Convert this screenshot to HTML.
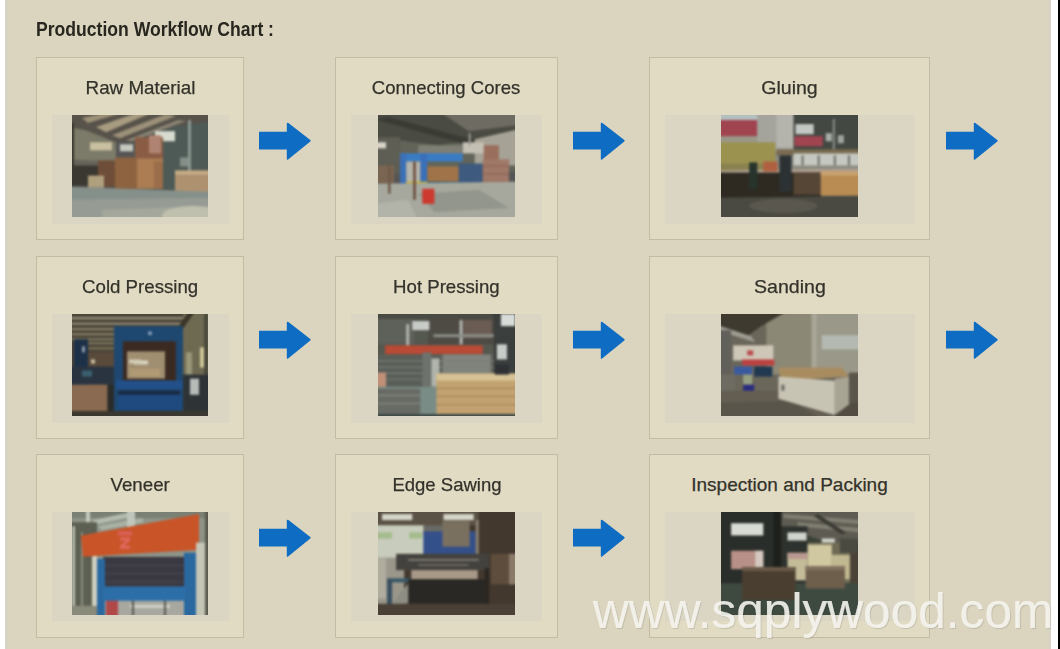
<!DOCTYPE html>
<html><head><meta charset="utf-8"><style>
html,body{margin:0;padding:0}
body{width:1060px;height:649px;position:relative;overflow:hidden;background:#fff;font-family:"Liberation Sans",sans-serif}
#bg{position:absolute;left:5px;top:0;width:1046px;height:649px;background:#dbd5bf}
#rb{position:absolute;left:1058px;top:0;width:2px;height:649px;background:#000}
#lb{position:absolute;left:5px;top:0;width:3px;height:649px;background:#d6d5c3}
#rb2{position:absolute;left:1048px;top:0;width:3px;height:649px;background:#d9d3c3}
.card{position:absolute;border:1px solid #c3bca3;background:#e1dbc4}
.ttl span{display:inline-block;transform-origin:50% 50%}
.ttl{position:absolute;text-align:center;font-size:19px;color:#33322a;white-space:nowrap;line-height:22px;-webkit-text-stroke:0.25px #33322a}
.bd{position:absolute;background:#dbd6c4}
.ph{position:absolute;display:block}
.ar{position:absolute;display:block}
#title{position:absolute;left:36px;top:17.5px;font-weight:bold;font-size:20px;color:#28271f;white-space:nowrap;transform-origin:0 0;transform:scaleX(0.879);line-height:22px}
#wm{position:absolute;left:593px;top:581px;font-size:49.6px;color:rgba(246,245,239,0.9);white-space:nowrap;line-height:60px;text-shadow:1px 1px 1px rgba(0,0,0,0.12);-webkit-text-stroke:0.2px rgba(246,245,239,0.9)}
</style></head><body>
<div id="bg"></div><div id="lb"></div><div id="rb2"></div><div id="rb"></div>
<div id="title">Production Workflow Chart :</div>
<div class="card" style="left:36px;top:57px;width:206px;height:181px"></div>
<div class="ttl" style="left:36px;top:77px;width:208px"><span style="transform:scaleX(0.9900)">Raw Material</span></div>
<div class="bd" style="left:52px;top:115px;width:177px;height:109px"></div>
<svg class="ph" style="left:72px;top:115px" width="136" height="102" viewBox="0 0 136 101" preserveAspectRatio="none"><defs><filter id="fraw" x="-10%" y="-10%" width="120%" height="120%" color-interpolation-filters="sRGB"><feGaussianBlur stdDeviation="1.3"/></filter><clipPath id="craw"><rect width="136" height="101"/></clipPath></defs><g clip-path="url(#craw)"><g filter="url(#fraw)"><rect x="-4" y="-4" width="144" height="109" fill="#555"/>
<polygon points="-4,-4 140,-4 140,6 100,12 62,26 44,27 14,15 -4,12" fill="#57524a"/>
<polygon points="10,3 44,-4 56,-4 16,8" fill="#9e9278"/>
<polygon points="24,12 70,-4 84,-4 34,17" fill="#a89c80"/>
<polygon points="40,20 94,-1 104,1 48,23" fill="#9c9078"/>
<polygon points="54,25 106,5 114,6 60,26" fill="#8a8474"/>
<polygon points="-4,12 14,15 44,27 44,56 -4,58" fill="#7c7a68"/>
<polygon points="-4,44 44,46 44,58 -4,58" fill="#66645a"/>
<rect x="-4" y="8" width="6" height="60" fill="#3a3830"/>
<rect x="18" y="27" width="22" height="8" fill="#c8c0a0"/>
<rect x="48" y="29" width="13" height="7" fill="#c4c8be"/>
<polygon points="62,26 100,12 140,6 140,74 62,74" fill="#4e5a55"/>
<rect x="83" y="16" width="20" height="10" fill="#d8dcd0"/>
<rect x="108" y="42" width="9" height="9" fill="#868e88"/>
<rect x="116" y="5" width="3" height="52" fill="#8a9892"/>
<rect x="-4" y="50" width="30" height="20" fill="#3a3830"/>
<rect x="26" y="45" width="17" height="26" fill="#6e4e38"/>
<rect x="43" y="42" width="22" height="31" fill="#8e6440"/>
<rect x="65" y="42" width="26" height="31" fill="#ac7c52"/>
<rect x="82" y="46" width="9" height="27" fill="#9a6e4a"/>
<rect x="63" y="22" width="28" height="21" fill="#8a5c44"/>
<rect x="77" y="20" width="12" height="18" fill="#b08472"/>
<rect x="16" y="60" width="16" height="12" fill="#b0a07e"/>
<rect x="103" y="55" width="35" height="22" fill="#ae9270"/>
<rect x="103" y="55" width="35" height="4" fill="#c4ac86"/>
<polygon points="-4,71 140,76 140,105 -4,105" fill="#86908a"/>
<polygon points="-4,84 140,82 140,105 -4,105" fill="#969c94"/>
<polygon points="30,94 140,90 140,105 30,105" fill="#a4a89c"/>
<ellipse cx="120" cy="100" rx="30" ry="10" fill="#c0c0ae"/>
</g></g></svg>
<svg class="ar" style="left:258px;top:122px" width="54" height="39" viewBox="0 0 54 39"><path d="M1 9.8 H28.8 V1.8 Q28.8 0 30.4 1.1 L52.3 18 Q53.2 18.8 52.3 19.6 L30.4 37.3 Q28.8 38.6 28.8 36.8 V27.6 H1 Z" fill="#0f6cc3"/></svg>
<div class="card" style="left:335px;top:57px;width:221px;height:181px"></div>
<div class="ttl" style="left:335px;top:77px;width:223px"><span style="transform:scaleX(0.9760)">Connecting Cores</span></div>
<div class="bd" style="left:351px;top:115px;width:191px;height:109px"></div>
<svg class="ph" style="left:378px;top:115px" width="137" height="102" viewBox="0 0 136 101" preserveAspectRatio="none"><defs><filter id="fcores" x="-10%" y="-10%" width="120%" height="120%" color-interpolation-filters="sRGB"><feGaussianBlur stdDeviation="1.3"/></filter><clipPath id="ccores"><rect width="136" height="101"/></clipPath></defs><g clip-path="url(#ccores)"><g filter="url(#fcores)"><rect x="-4" y="-4" width="144" height="109" fill="#555"/>
<rect x="-4" y="-4" width="144" height="60" fill="#62645a"/>
<polygon points="-4,-4 140,-4 140,14 100,24 60,30 -4,22" fill="#4a4b42"/>
<polygon points="60,-4 140,-4 140,10 90,16" fill="#6e6c62"/>
<polygon points="-4,4 10,2 100,26 90,30" fill="#3a3b34"/>
<polygon points="96,24 140,14 140,50 96,50" fill="#a6a296"/>
<rect x="-4" y="22" width="26" height="36" fill="#5e5e54"/>
<rect x="-4" y="27" width="12" height="6" fill="#d8d4c8"/>
<rect x="84" y="27" width="21" height="11" fill="#c4c0b4"/>
<rect x="90" y="18" width="2" height="12" fill="#9a9a92"/>
<rect x="40" y="30" width="44" height="9" fill="#7e7e74"/>
<rect x="105" y="30" width="15" height="16" fill="#9a6e5c"/>
<rect x="-4" y="50" width="20" height="18" fill="#7a6452"/>
<rect x="22" y="38" width="62" height="8" fill="#3a7cc4"/>
<rect x="22" y="38" width="6" height="40" fill="#3a70b8"/>
<rect x="42" y="38" width="7" height="40" fill="#3a70b8"/>
<rect x="28" y="46" width="14" height="22" fill="#b4b4ac"/>
<rect x="28" y="66" width="22" height="6" fill="#c8b030"/>
<rect x="49" y="51" width="32" height="15" fill="#a07448"/>
<rect x="49" y="66" width="34" height="4" fill="#3a6a80"/>
<rect x="80" y="48" width="24" height="24" fill="#3e5a7e"/>
<rect x="104" y="44" width="26" height="29" fill="#a07868"/>
<rect x="104" y="50" width="26" height="1" fill="#8a6050"/>
<rect x="104" y="58" width="26" height="1" fill="#8a6050"/>
<rect x="104" y="66" width="26" height="1" fill="#8a6050"/>
<polygon points="-4,68 140,66 140,105 -4,105" fill="#a6a89e"/>
<polygon points="40,78 100,74 130,92 56,96" fill="#92968c"/>
<polygon points="-4,88 30,84 40,105 -4,105" fill="#b2b4aa"/>
<rect x="44" y="73" width="12" height="15" fill="#cc3a30"/>
<rect x="35" y="46" width="2.5" height="38" fill="#6a4a38"/>
<rect x="10" y="48" width="2.5" height="30" fill="#6e5a4a"/>
</g></g></svg>
<svg class="ar" style="left:572px;top:122px" width="54" height="39" viewBox="0 0 54 39"><path d="M1 9.8 H28.8 V1.8 Q28.8 0 30.4 1.1 L52.3 18 Q53.2 18.8 52.3 19.6 L30.4 37.3 Q28.8 38.6 28.8 36.8 V27.6 H1 Z" fill="#0f6cc3"/></svg>
<div class="card" style="left:649px;top:57px;width:279px;height:181px"></div>
<div class="ttl" style="left:649px;top:77px;width:281px"><span style="transform:scaleX(1.0300)">Gluing</span></div>
<div class="bd" style="left:665px;top:115px;width:250px;height:109px"></div>
<svg class="ph" style="left:721px;top:115px" width="137" height="102" viewBox="0 0 136 101" preserveAspectRatio="none"><defs><filter id="fglue" x="-10%" y="-10%" width="120%" height="120%" color-interpolation-filters="sRGB"><feGaussianBlur stdDeviation="1.3"/></filter><clipPath id="cglue"><rect width="136" height="101"/></clipPath></defs><g clip-path="url(#cglue)"><g filter="url(#fglue)"><rect x="-4" y="-4" width="144" height="109" fill="#555"/>
<rect x="-4" y="-4" width="144" height="60" fill="#8a8a80"/>
<rect x="-4" y="-4" width="60" height="9" fill="#b4c0c0"/>
<rect x="-4" y="5" width="40" height="18" fill="#a04450"/>
<rect x="-4" y="21" width="44" height="7" fill="#9a9888"/>
<rect x="36" y="-4" width="36" height="40" fill="#a4a49c"/>
<rect x="55" y="-4" width="17" height="36" fill="#b4b4ac"/>
<rect x="72" y="-4" width="68" height="42" fill="#444842"/>
<rect x="74" y="9" width="18" height="10" fill="#c4c8c4"/>
<rect x="73" y="21" width="28" height="10" fill="#a04450"/>
<rect x="104" y="18" width="6" height="8" fill="#a8aca8"/>
<rect x="116" y="20" width="6" height="8" fill="#a0a4a0"/>
<rect x="111" y="4" width="2" height="32" fill="#8a8e8a"/>
<rect x="-4" y="27" width="58" height="30" fill="#9c9250"/>
<rect x="-4" y="48" width="58" height="9" fill="#8a8250"/>
<rect x="55" y="34" width="85" height="6" fill="#786a50"/>
<rect x="72" y="38" width="68" height="12" fill="#c4c8c0"/>
<rect x="80" y="40" width="2" height="10" fill="#707068"/>
<rect x="96" y="40" width="2" height="10" fill="#707068"/>
<rect x="112" y="40" width="2" height="10" fill="#707068"/>
<rect x="126" y="40" width="2" height="10" fill="#707068"/>
<polygon points="-4,55 140,53 140,58 -4,61" fill="#b0a090"/>
<rect x="-4" y="57" width="104" height="26" fill="#2e2a22"/>
<rect x="42" y="46" width="14" height="10" fill="#b06040"/>
<rect x="72" y="57" width="28" height="22" fill="#564636"/>
<rect x="28" y="47" width="8" height="26" fill="#26342c"/>
<rect x="58" y="40" width="12" height="36" fill="#2c3234"/>
<rect x="99" y="56" width="41" height="24" fill="#b88c52"/>
<rect x="99" y="56" width="41" height="4" fill="#caa270"/>
<polygon points="-4,82 140,80 140,105 -4,105" fill="#4a4a42"/>
<ellipse cx="62" cy="90" rx="34" ry="7" fill="#5a584e"/>
</g></g></svg>
<svg class="ar" style="left:945px;top:122px" width="54" height="39" viewBox="0 0 54 39"><path d="M1 9.8 H28.8 V1.8 Q28.8 0 30.4 1.1 L52.3 18 Q53.2 18.8 52.3 19.6 L30.4 37.3 Q28.8 38.6 28.8 36.8 V27.6 H1 Z" fill="#0f6cc3"/></svg>
<div class="card" style="left:36px;top:256px;width:206px;height:181px"></div>
<div class="ttl" style="left:36px;top:276px;width:208px"><span style="transform:scaleX(0.9820)">Cold Pressing</span></div>
<div class="bd" style="left:52px;top:314px;width:177px;height:109px"></div>
<svg class="ph" style="left:72px;top:314px" width="136" height="102" viewBox="0 0 136 101" preserveAspectRatio="none"><defs><filter id="fcold" x="-10%" y="-10%" width="120%" height="120%" color-interpolation-filters="sRGB"><feGaussianBlur stdDeviation="1.3"/></filter><clipPath id="ccold"><rect width="136" height="101"/></clipPath></defs><g clip-path="url(#ccold)"><g filter="url(#fcold)"><rect x="-4" y="-4" width="144" height="109" fill="#555"/>
<rect x="-4" y="-4" width="144" height="109" fill="#4a4438"/>
<rect x="-4" y="3" width="144" height="2.2" fill="#948e78"/>
<rect x="-4" y="8.5" width="144" height="2.2" fill="#8e8872"/>
<rect x="-4" y="14" width="144" height="2" fill="#8a846c"/>
<rect x="-4" y="19" width="46" height="2" fill="#8a846c"/>
<rect x="-4" y="24" width="46" height="2" fill="#807a62"/>
<rect x="16" y="28" width="26" height="2" fill="#7e785e"/>
<rect x="16" y="33" width="26" height="2" fill="#7a745a"/>
<rect x="16" y="38" width="26" height="32" fill="#5a4a3c"/>
<rect x="19" y="45" width="4" height="4" fill="#c8c0a0"/>
<rect x="2" y="25" width="14" height="46" fill="#1c3048"/>
<rect x="10" y="32" width="3" height="6" fill="#8a9aa8"/>
<rect x="-4" y="52" width="46" height="18" fill="#2a3440"/>
<rect x="10" y="56" width="10" height="6" fill="#3a6070"/>
<rect x="111" y="-4" width="29" height="74" fill="#6e6a52"/>
<polygon points="105,14 118,-4 124,-4 110,16" fill="#3a3428"/>
<rect x="128" y="33" width="6" height="20" fill="#d0c898"/>
<rect x="114" y="38" width="6" height="22" fill="#9a9678"/>
<rect x="132" y="-4" width="4" height="109" fill="#4a4a3c"/>
<rect x="111" y="60" width="29" height="40" fill="#2e3436"/>
<rect x="118" y="64" width="9" height="16" fill="#b8bcb8"/>
<rect x="42" y="12" width="69" height="85" fill="#1f4870"/>
<rect x="51" y="27" width="53" height="39" fill="#3a2a22"/>
<rect x="55" y="37" width="38" height="27" fill="#a08e70"/>
<rect x="62" y="46" width="14" height="4" fill="#d8d4c0"/>
<rect x="58" y="54" width="30" height="8" fill="#b09a74"/>
<rect x="57" y="45" width="12" height="4" fill="#d0ccb4"/>
<rect x="44" y="66" width="67" height="8" fill="#22508a"/>
<rect x="46" y="76" width="62" height="4" fill="#182a44"/>
<rect x="46" y="80" width="64" height="15" fill="#1e4a80"/>
<circle cx="78" cy="19" r="2" fill="#8aa0b8"/>
<rect x="-4" y="70" width="39" height="35" fill="#8a6a50"/>
<rect x="36" y="70" width="6" height="30" fill="#2a2c2a"/>
<rect x="-4" y="96" width="144" height="9" fill="#3a3830"/>
</g></g></svg>
<svg class="ar" style="left:258px;top:321px" width="54" height="39" viewBox="0 0 54 39"><path d="M1 9.8 H28.8 V1.8 Q28.8 0 30.4 1.1 L52.3 18 Q53.2 18.8 52.3 19.6 L30.4 37.3 Q28.8 38.6 28.8 36.8 V27.6 H1 Z" fill="#0f6cc3"/></svg>
<div class="card" style="left:335px;top:256px;width:221px;height:181px"></div>
<div class="ttl" style="left:335px;top:276px;width:223px"><span style="transform:scaleX(0.9800)">Hot Pressing</span></div>
<div class="bd" style="left:351px;top:314px;width:191px;height:109px"></div>
<svg class="ph" style="left:378px;top:314px" width="137" height="102" viewBox="0 0 136 101" preserveAspectRatio="none"><defs><filter id="fhot" x="-10%" y="-10%" width="120%" height="120%" color-interpolation-filters="sRGB"><feGaussianBlur stdDeviation="1.3"/></filter><clipPath id="chot"><rect width="136" height="101"/></clipPath></defs><g clip-path="url(#chot)"><g filter="url(#fhot)"><rect x="-4" y="-4" width="144" height="109" fill="#555"/>
<rect x="-4" y="-4" width="144" height="109" fill="#55584f"/>
<rect x="-4" y="-4" width="144" height="9" fill="#4a4a44"/>
<rect x="-4" y="5" width="40" height="25" fill="#5e605a"/>
<rect x="50" y="5" width="68" height="25" fill="#4e4a44"/>
<rect x="85" y="6" width="28" height="18" fill="#6a5c52"/>
<rect x="34" y="7" width="17" height="9" fill="#c8ccc8"/>
<rect x="28" y="10" width="3" height="22" fill="#b0b4ac"/>
<rect x="81" y="6" width="3" height="24" fill="#b4b6b0"/>
<rect x="55" y="20" width="60" height="3" fill="#8a8e88"/>
<rect x="115" y="-4" width="25" height="64" fill="#3a3e3c"/>
<rect x="122" y="0" width="14" height="12" fill="#d8dcd8"/>
<rect x="118" y="30" width="10" height="15" fill="#c8ccc8"/>
<rect x="7" y="31" width="97" height="9" fill="#b84a36"/>
<rect x="-4" y="40" width="119" height="33" fill="#5a5e58"/>
<rect x="64" y="40" width="48" height="20" fill="#80847c"/>
<rect x="-4" y="46" width="119" height="1.2" fill="#7a7e76"/>
<rect x="-4" y="52" width="119" height="1.2" fill="#7a7e76"/>
<rect x="-4" y="58" width="119" height="1.2" fill="#7a7e76"/>
<rect x="-4" y="64" width="119" height="1.2" fill="#727670"/>
<rect x="44" y="38" width="9" height="36" fill="#6e726c"/>
<rect x="53" y="44" width="8" height="28" fill="#b0b4ac"/>
<rect x="-4" y="58" width="12" height="16" fill="#c09078"/>
<rect x="-4" y="72" width="144" height="33" fill="#7a8c86"/>
<rect x="-4" y="74" width="46" height="26" fill="#686a64"/>
<rect x="-4" y="80" width="46" height="1.3" fill="#868a82"/>
<rect x="-4" y="88" width="46" height="1.3" fill="#868a82"/>
<rect x="58" y="59" width="82" height="40" fill="#c2a270"/>
<rect x="58" y="59" width="82" height="7" fill="#d6c294"/>
<rect x="58" y="73" width="82" height="1.3" fill="#a88a60"/>
<rect x="58" y="81" width="82" height="1.3" fill="#a88a60"/>
<rect x="58" y="89" width="82" height="1.3" fill="#a88a60"/>
<rect x="-4" y="99" width="144" height="6" fill="#3e4a48"/>
<rect x="116" y="50" width="14" height="10" fill="#2e3034"/>
</g></g></svg>
<svg class="ar" style="left:572px;top:321px" width="54" height="39" viewBox="0 0 54 39"><path d="M1 9.8 H28.8 V1.8 Q28.8 0 30.4 1.1 L52.3 18 Q53.2 18.8 52.3 19.6 L30.4 37.3 Q28.8 38.6 28.8 36.8 V27.6 H1 Z" fill="#0f6cc3"/></svg>
<div class="card" style="left:649px;top:256px;width:279px;height:181px"></div>
<div class="ttl" style="left:649px;top:276px;width:281px"><span style="transform:scaleX(1.0300)">Sanding</span></div>
<div class="bd" style="left:665px;top:314px;width:250px;height:109px"></div>
<svg class="ph" style="left:721px;top:314px" width="137" height="102" viewBox="0 0 136 101" preserveAspectRatio="none"><defs><filter id="fsand" x="-10%" y="-10%" width="120%" height="120%" color-interpolation-filters="sRGB"><feGaussianBlur stdDeviation="1.3"/></filter><clipPath id="csand"><rect width="136" height="101"/></clipPath></defs><g clip-path="url(#csand)"><g filter="url(#fsand)"><rect x="-4" y="-4" width="144" height="109" fill="#555"/>
<rect x="-4" y="-4" width="144" height="109" fill="#6a665a"/>
<polygon points="45,-4 140,-4 140,60 45,60" fill="#8c8876"/>
<polygon points="90,-4 140,-4 140,60 90,60" fill="#9a9888"/>
<rect x="100" y="21" width="40" height="14" fill="#b4bab2"/>
<rect x="90" y="-4" width="5" height="60" fill="#a8a696"/>
<polygon points="-4,-4 68,-4 40,12 26,22 -4,12" fill="#3e3a30"/>
<polygon points="-4,11 30,22 34,28 -4,16" fill="#9e9c92"/>
<rect x="-4" y="16" width="14" height="46" fill="#62605a"/>
<rect x="12" y="31" width="40" height="15" fill="#cec6b6"/>
<rect x="26" y="36" width="6" height="5" fill="#b85050"/>
<rect x="21" y="45" width="32" height="6" fill="#bc4242"/>
<rect x="13" y="52" width="18" height="8" fill="#3a5aa0"/>
<rect x="33" y="52" width="18" height="10" fill="#203850"/>
<rect x="22" y="60" width="9" height="10" fill="#96a080"/>
<rect x="22" y="70" width="11" height="8" fill="#2a2c80"/>
<rect x="-4" y="60" width="18" height="16" fill="#6e6c62"/>
<polygon points="-4,76 56,76 112,101 -4,105" fill="#645e52"/>
<polygon points="-4,88 70,86 100,105 -4,105" fill="#5a554a"/>
<polygon points="57,53 120,53 127,62 60,66" fill="#a88c60"/>
<polygon points="57,62 113,66 113,100 57,84" fill="#c8c4b4"/>
<polygon points="113,64 127,62 127,96 113,100" fill="#a8a494"/>
<polygon points="113,100 140,80 140,105 113,105" fill="#524c42"/>
<rect x="127" y="58" width="13" height="30" fill="#5a564a"/>
<rect x="60" y="70" width="3" height="6" fill="#6a6a66"/>
</g></g></svg>
<svg class="ar" style="left:945px;top:321px" width="54" height="39" viewBox="0 0 54 39"><path d="M1 9.8 H28.8 V1.8 Q28.8 0 30.4 1.1 L52.3 18 Q53.2 18.8 52.3 19.6 L30.4 37.3 Q28.8 38.6 28.8 36.8 V27.6 H1 Z" fill="#0f6cc3"/></svg>
<div class="card" style="left:36px;top:454px;width:206px;height:182px"></div>
<div class="ttl" style="left:36px;top:474px;width:208px"><span style="transform:scaleX(0.9850)">Veneer</span></div>
<div class="bd" style="left:52px;top:512px;width:177px;height:109px"></div>
<svg class="ph" style="left:72px;top:512px" width="136" height="103" viewBox="0 0 136 101" preserveAspectRatio="none"><defs><filter id="fveneer" x="-10%" y="-10%" width="120%" height="120%" color-interpolation-filters="sRGB"><feGaussianBlur stdDeviation="1.3"/></filter><clipPath id="cveneer"><rect width="136" height="101"/></clipPath></defs><g clip-path="url(#cveneer)"><g filter="url(#fveneer)"><rect x="-4" y="-4" width="144" height="109" fill="#555"/>
<rect x="-4" y="-4" width="144" height="109" fill="#8e9488"/>
<rect x="-4" y="-4" width="144" height="10" fill="#7a8074"/>
<polygon points="20,8 60,0 64,4 24,12" fill="#b4bcb0"/>
<polygon points="26,14 70,6 72,10 30,18" fill="#aab2a6"/>
<rect x="55" y="-4" width="8" height="22" fill="#c0c6bc"/>
<rect x="14" y="-4" width="4" height="30" fill="#c4cac0"/>
<rect x="-4" y="10" width="29" height="95" fill="#5c6052"/>
<rect x="0" y="14" width="3" height="86" fill="#b8bcac"/>
<rect x="9" y="20" width="2" height="80" fill="#8a8e80"/>
<rect x="20" y="40" width="5" height="60" fill="#d0d0c0"/>
<rect x="-4" y="92" width="30" height="13" fill="#8a8a7a"/>
<polygon points="9,23 127,2 127,37 11,44" fill="#c85428"/>
<rect x="46" y="19" width="14" height="4" fill="#d86058"/>
<polygon points="48,25 58,25 58,28 52,33 58,33 58,36 48,36 48,33 54,28 48,28" fill="#e06860"/>
<rect x="31" y="44" width="82" height="31" fill="#3a3840"/>
<rect x="31" y="52" width="82" height="1" fill="#4e4c54"/>
<rect x="31" y="60" width="82" height="1" fill="#4e4c54"/>
<rect x="31" y="68" width="82" height="1" fill="#4e4c54"/>
<rect x="33" y="86" width="80" height="19" fill="#a8a8a0"/>
<rect x="58" y="91" width="40" height="3" fill="#d0d0c8"/>
<rect x="34" y="84" width="12" height="21" fill="#b04848"/>
<rect x="60" y="86" width="2" height="19" fill="#5a5a54"/>
<rect x="92" y="86" width="2" height="19" fill="#5a5a54"/>
<rect x="25" y="46" width="8" height="59" fill="#2a68a0"/>
<rect x="112" y="40" width="12" height="65" fill="#2a68a0"/>
<rect x="31" y="73" width="82" height="14" fill="#2c6ea8"/>
<rect x="124" y="30" width="10" height="75" fill="#c6c6b6"/>
<rect x="133" y="-4" width="7" height="109" fill="#5a5a4e"/>
</g></g></svg>
<svg class="ar" style="left:258px;top:519px" width="54" height="39" viewBox="0 0 54 39"><path d="M1 9.8 H28.8 V1.8 Q28.8 0 30.4 1.1 L52.3 18 Q53.2 18.8 52.3 19.6 L30.4 37.3 Q28.8 38.6 28.8 36.8 V27.6 H1 Z" fill="#0f6cc3"/></svg>
<div class="card" style="left:335px;top:454px;width:221px;height:182px"></div>
<div class="ttl" style="left:335px;top:474px;width:223px"><span style="transform:scaleX(0.9750)">Edge Sawing</span></div>
<div class="bd" style="left:351px;top:512px;width:191px;height:109px"></div>
<svg class="ph" style="left:378px;top:512px" width="137" height="103" viewBox="0 0 136 101" preserveAspectRatio="none"><defs><filter id="fedge" x="-10%" y="-10%" width="120%" height="120%" color-interpolation-filters="sRGB"><feGaussianBlur stdDeviation="1.3"/></filter><clipPath id="cedge"><rect width="136" height="101"/></clipPath></defs><g clip-path="url(#cedge)"><g filter="url(#fedge)"><rect x="-4" y="-4" width="144" height="109" fill="#555"/>
<rect x="-4" y="-4" width="144" height="109" fill="#42382e"/>
<rect x="-4" y="-4" width="104" height="17" fill="#5a5244"/>
<rect x="4" y="2" width="30" height="6" fill="#d4d4c8"/>
<rect x="65" y="2" width="30" height="6" fill="#d4d4c8"/>
<rect x="-4" y="13" width="50" height="32" fill="#c8ccbc"/>
<rect x="-4" y="20" width="18" height="6" fill="#a4bc8c"/>
<rect x="31" y="20" width="13" height="6" fill="#a4bc8c"/>
<rect x="45" y="13" width="20" height="8" fill="#6a6a64"/>
<rect x="45" y="19" width="52" height="23" fill="#34508a"/>
<rect x="64" y="9" width="27" height="25" fill="#7a7060"/>
<rect x="97" y="8" width="3" height="44" fill="#8a8070"/>
<rect x="112" y="41" width="28" height="30" fill="#5e4c3c"/>
<rect x="130" y="41" width="10" height="30" fill="#8a7a68"/>
<rect x="-4" y="45" width="30" height="46" fill="#9a968a"/>
<rect x="-4" y="45" width="12" height="40" fill="#b0ac9e"/>
<rect x="18" y="41" width="92" height="16" fill="#44423e"/>
<rect x="30" y="46" width="70" height="2" fill="#7a7670"/>
<rect x="40" y="51" width="50" height="2" fill="#6a6660"/>
<rect x="33" y="57" width="66" height="9" fill="#a89888"/>
<rect x="9" y="65" width="24" height="4" fill="#3a5a68"/>
<rect x="9" y="66" width="5" height="26" fill="#3a5060"/>
<rect x="30" y="66" width="80" height="24" fill="#2a2824"/>
<polygon points="14,90 30,70 30,90" fill="#8e8e84"/>
<rect x="106" y="55" width="4" height="38" fill="#2a2620"/>
<rect x="-4" y="90" width="144" height="15" fill="#4a4036"/>
</g></g></svg>
<svg class="ar" style="left:572px;top:519px" width="54" height="39" viewBox="0 0 54 39"><path d="M1 9.8 H28.8 V1.8 Q28.8 0 30.4 1.1 L52.3 18 Q53.2 18.8 52.3 19.6 L30.4 37.3 Q28.8 38.6 28.8 36.8 V27.6 H1 Z" fill="#0f6cc3"/></svg>
<div class="card" style="left:649px;top:454px;width:279px;height:182px"></div>
<div class="ttl" style="left:649px;top:474px;width:281px"><span style="transform:scaleX(1.0000)">Inspection and Packing</span></div>
<div class="bd" style="left:665px;top:512px;width:250px;height:109px"></div>
<svg class="ph" style="left:721px;top:512px" width="137" height="103" viewBox="0 0 136 101" preserveAspectRatio="none"><defs><filter id="finsp" x="-10%" y="-10%" width="120%" height="120%" color-interpolation-filters="sRGB"><feGaussianBlur stdDeviation="1.3"/></filter><clipPath id="cinsp"><rect width="136" height="101"/></clipPath></defs><g clip-path="url(#cinsp)"><g filter="url(#finsp)"><rect x="-4" y="-4" width="144" height="109" fill="#555"/>
<rect x="-4" y="-4" width="144" height="109" fill="#3a4036"/>
<rect x="-4" y="-4" width="64" height="74" fill="#2a2e2a"/>
<polygon points="56,-4 140,-4 140,30 112,32 60,14" fill="#5e5c52"/>
<polygon points="62,2 140,8 140,12 62,6" fill="#8a887a" opacity="0.8"/>
<polygon points="76,10 140,16 140,20 76,14" fill="#8a887a" opacity="0.8"/>
<polygon points="96,2 124,20 120,22 92,4" fill="#3a3a34"/>
<rect x="52" y="-4" width="8" height="74" fill="#1e201c"/>
<rect x="10" y="11" width="32" height="12" fill="#d8dcd4"/>
<rect x="10" y="38" width="32" height="18" fill="#b89088"/>
<rect x="34" y="38" width="8" height="18" fill="#d4c8c0"/>
<rect x="60" y="14" width="26" height="56" fill="#2e322e"/>
<rect x="66" y="20" width="19" height="8" fill="#d0d4cc"/>
<rect x="100" y="26" width="13" height="6" fill="#d0d2c8"/>
<rect x="66" y="40" width="20" height="27" fill="#c4bc98"/>
<rect x="66" y="40" width="20" height="6" fill="#b89890"/>
<rect x="86" y="30" width="50" height="40" fill="#6e6a54"/>
<rect x="86" y="32" width="24" height="33" fill="#d0c8a0"/>
<rect x="110" y="42" width="18" height="24" fill="#c0b890"/>
<rect x="118" y="26" width="18" height="14" fill="#4a4a40"/>
<rect x="128" y="40" width="12" height="32" fill="#4a4236"/>
<rect x="-4" y="70" width="144" height="35" fill="#3e4a40"/>
<rect x="21" y="54" width="53" height="32" fill="#4a3e30"/>
<rect x="21" y="54" width="53" height="4" fill="#6a5a48"/>
<rect x="84" y="53" width="39" height="22" fill="#6e5e4c"/>
<rect x="84" y="53" width="39" height="4" fill="#847260"/>
</g></g></svg>
<div id="wm">www.sqplywood.com</div>
</body></html>
